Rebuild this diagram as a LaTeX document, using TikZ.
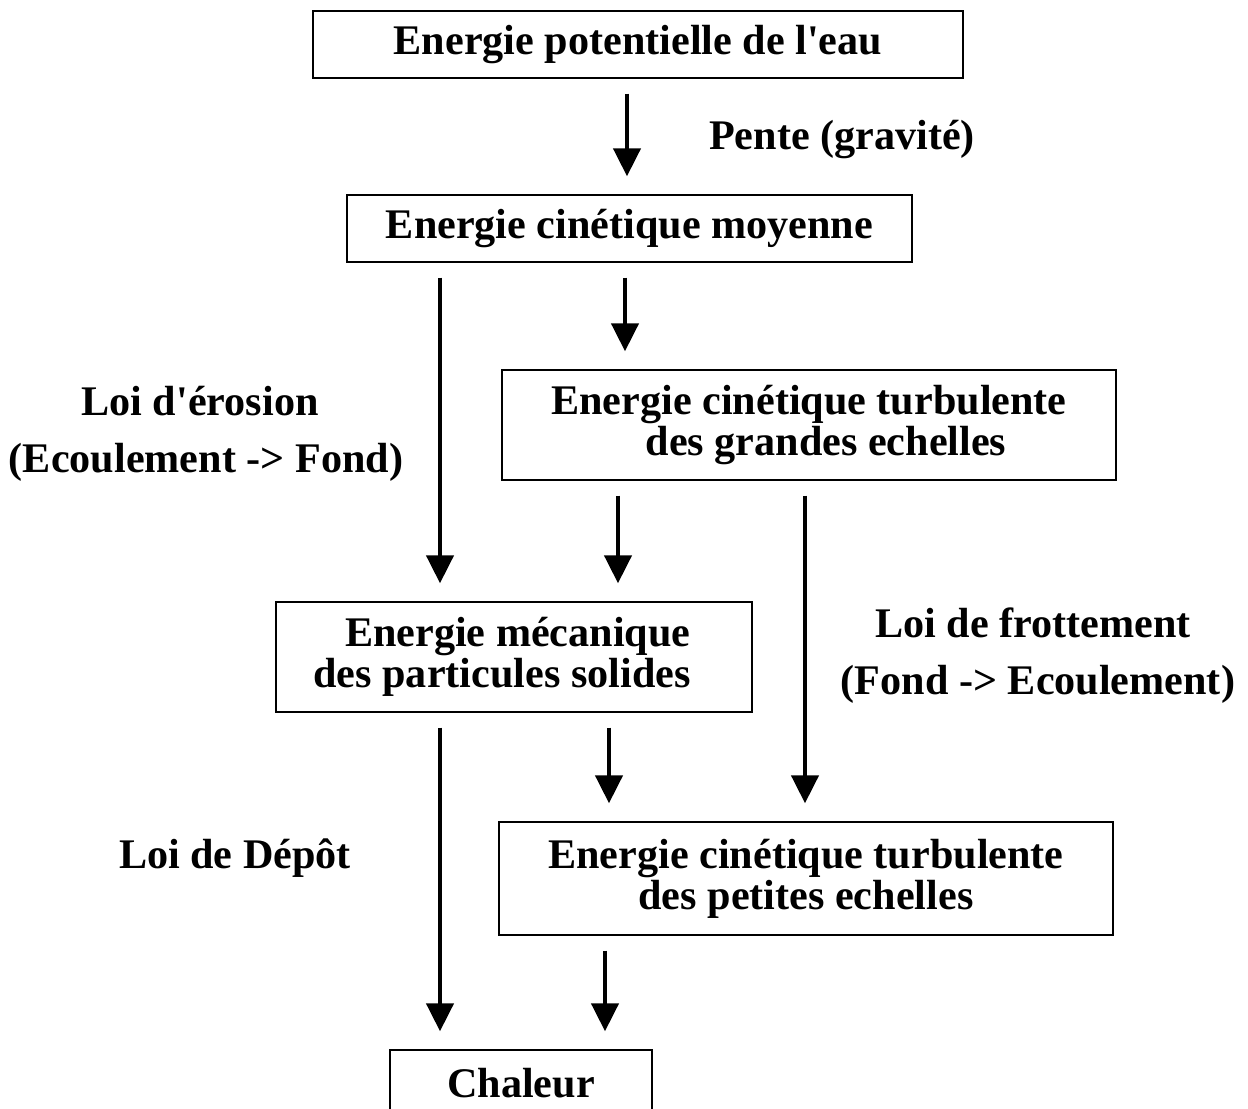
\documentclass[tikz,border=0pt]{standalone}
\usepackage{fontspec}
\setmainfont{Liberation Serif}
\usetikzlibrary{arrows.meta}

\begin{document}
\begin{tikzpicture}[x=0.02cm, y=-0.02cm,
    boite/.style={rectangle, draw, line width=0.8pt, minimum height=1.34cm, align=center, inner sep=0pt, font=\fontsize{24}{23.5}\selectfont\bfseries},
    etiquette/.style={align=center, font=\fontsize{24}{23.5}\selectfont\bfseries},
    fleche/.style={-{Triangle[length=0.56cm, width=0.54cm]}, line width=2.5pt, shorten <=0.3cm, shorten >=0.36cm}
]
\useasboundingbox (0,0) rectangle (1248,1109);

% Boites
\node[boite, minimum width=13cm] (eau) at (638,44.5) {Energie potentielle de l\textquotesingle eau};
\node[boite, minimum width=11.3cm] (moyenne) at (629.5,228.5) {Energie cinétique moyenne};
\node[boite, minimum width=12.28cm, minimum height=2.2cm] (grandes) at (809,425) {Energie cinétique turbulente\\\hspace*{0.68cm}des grandes echelles};
\node[boite, minimum width=9.52cm, minimum height=2.2cm, align=right] (particules) at (514,657) {Energie mécanique\hspace*{0.48cm}\\des particules solides\hspace*{0.48cm}};
\node[boite, minimum width=12.28cm, minimum height=2.26cm] (petites) at (806,878.5) {Energie cinétique turbulente\\des petites echelles};
\node[boite, minimum width=5.24cm] (chaleur) at (521,1083.5) {Chaleur};

% Etiquettes
\node[etiquette] (pente) at (842,140) {Pente (gravité)};
\node[etiquette] (erosion) at (206,434) {Loi d\textquotesingle érosion\hspace*{0.24cm}\\[0.32cm](Ecoulement -> Fond)};
\node[etiquette] (frottement) at (1038,655.5) {Loi de frottement\hspace*{0.2cm}\\[0.32cm](Fond -> Ecoulement)};
\node[etiquette] (depot) at (235,858) {Loi de Dépôt};

% Fleches
\draw[fleche] (eau.south -| 627,0) -- (moyenne.north -| 627,0);
\draw[fleche] (moyenne.south -| 625,0) -- (grandes.north -| 625,0);
\draw[fleche] (moyenne.south -| 440,0) -- (particules.north -| 440,0);
\draw[fleche] (grandes.south -| 618,0) -- (particules.north -| 618,0);
\draw[fleche] (grandes.south -| 805,0) -- (petites.north -| 805,0);
\draw[fleche] (particules.south -| 440,0) -- (chaleur.north -| 440,0);
\draw[fleche] (particules.south -| 609,0) -- (petites.north -| 609,0);
\draw[fleche] (petites.south -| 605,0) -- (chaleur.north -| 605,0);

\end{tikzpicture}
\end{document}
